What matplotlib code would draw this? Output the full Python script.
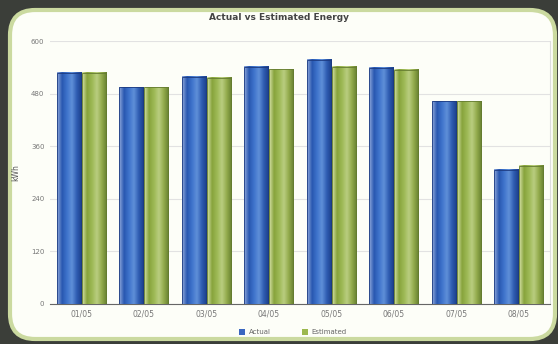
import numpy as np
import matplotlib.pyplot as plt
from matplotlib.patches import FancyBboxPatch
from matplotlib.colors import LinearSegmentedColormap

days = ['01/05', '02/05', '03/05', '04/05', '05/05', '06/05', '07/05', '08/05']
actual = [527, 495, 518, 541, 557, 539, 462, 306]
estimated = [527, 495, 516, 536, 541, 534, 463, 315]
yticks = [0, 120, 240, 360, 480, 600]

fig = plt.figure(figsize=(5.58, 3.44), dpi=100)
fig.patch.set_facecolor('#3b3e39')

# rounded white panel behind the chart
panel = FancyBboxPatch((10 / 558, 5 / 344), 545 / 558, 329 / 344,
                       boxstyle='round,pad=0,rounding_size=0.045',
                       mutation_aspect=558 / 344,
                       transform=fig.transFigure, facecolor='#fdfef8',
                       edgecolor='#cbdaa0', linewidth=3, zorder=-10)
fig.patches.append(panel)

ax = fig.add_axes([50 / 558, 1 - 304 / 344, 500 / 558, (304 - 41) / 344])
ax.set_facecolor('none')

blue_cm = LinearSegmentedColormap.from_list(
    'b', ['#8fa9dc', '#2857b0', '#3f74cc', '#5f8fd8', '#2f5db2', '#1c3f8a'])
green_cm = LinearSegmentedColormap.from_list(
    'g', ['#d6e2a8', '#87a33c', '#9db955', '#b9cd80', '#93ab4c', '#667f30'])
grad = np.linspace(0, 1, 64).reshape(1, -1)

x = np.arange(len(days))
w = 0.39
for xi, a, e in zip(x, actual, estimated):
    for off, val, cm, edge in [(-0.2, a, blue_cm, '#1c3a80'),
                               (0.2, e, green_cm, '#647b30')]:
        x0, x1 = xi + off - w / 2, xi + off + w / 2
        ax.imshow(grad, cmap=cm, aspect='auto', extent=(x0, x1, 0, val),
                  zorder=3, interpolation='bilinear')
        ax.bar(xi + off, val, w, facecolor='none', edgecolor=edge,
               linewidth=0.6, zorder=4)

ax.set_xlim(-0.5, len(days) - 0.5)
ax.set_ylim(0, 600)
ax.set_yticks(yticks)
ax.set_yticklabels([str(v) for v in yticks], fontsize=5, color='#777777')
ax.set_xticks(x)
ax.set_xticklabels(days, fontsize=5.5, color='#777777')
ax.tick_params(length=0, pad=4)
ax.grid(axis='y', color='#e2e2e2', linewidth=0.8, zorder=0)
ax.set_axisbelow(True)
for s in ['top', 'left']:
    ax.spines[s].set_visible(False)
ax.spines['right'].set_color('#dddddd')
ax.spines['bottom'].set_color('#666666')
ax.set_ylabel('kWh', fontsize=5.5, color='#555555', labelpad=8)

fig.text(0.5, 0.948, 'Actual vs Estimated Energy', ha='center', va='center',
         fontsize=6.5, fontweight='bold', color='#444444')

# legend
ax_leg = [(242 / 558, 'Actual', '#3a66c0'), (305 / 558, 'Estimated', '#9cb84e')]
for lx, txt, col in ax_leg:
    fig.patches.append(FancyBboxPatch((lx - 0.006, 0.025), 0.012, 0.018,
                                      boxstyle='square,pad=0',
                                      transform=fig.transFigure,
                                      facecolor=col, edgecolor='none'))
    fig.text(lx + 0.012, 0.034, txt, fontsize=5, color='#666666', va='center')

fig.savefig('out.png', dpi=100, facecolor=fig.get_facecolor())
